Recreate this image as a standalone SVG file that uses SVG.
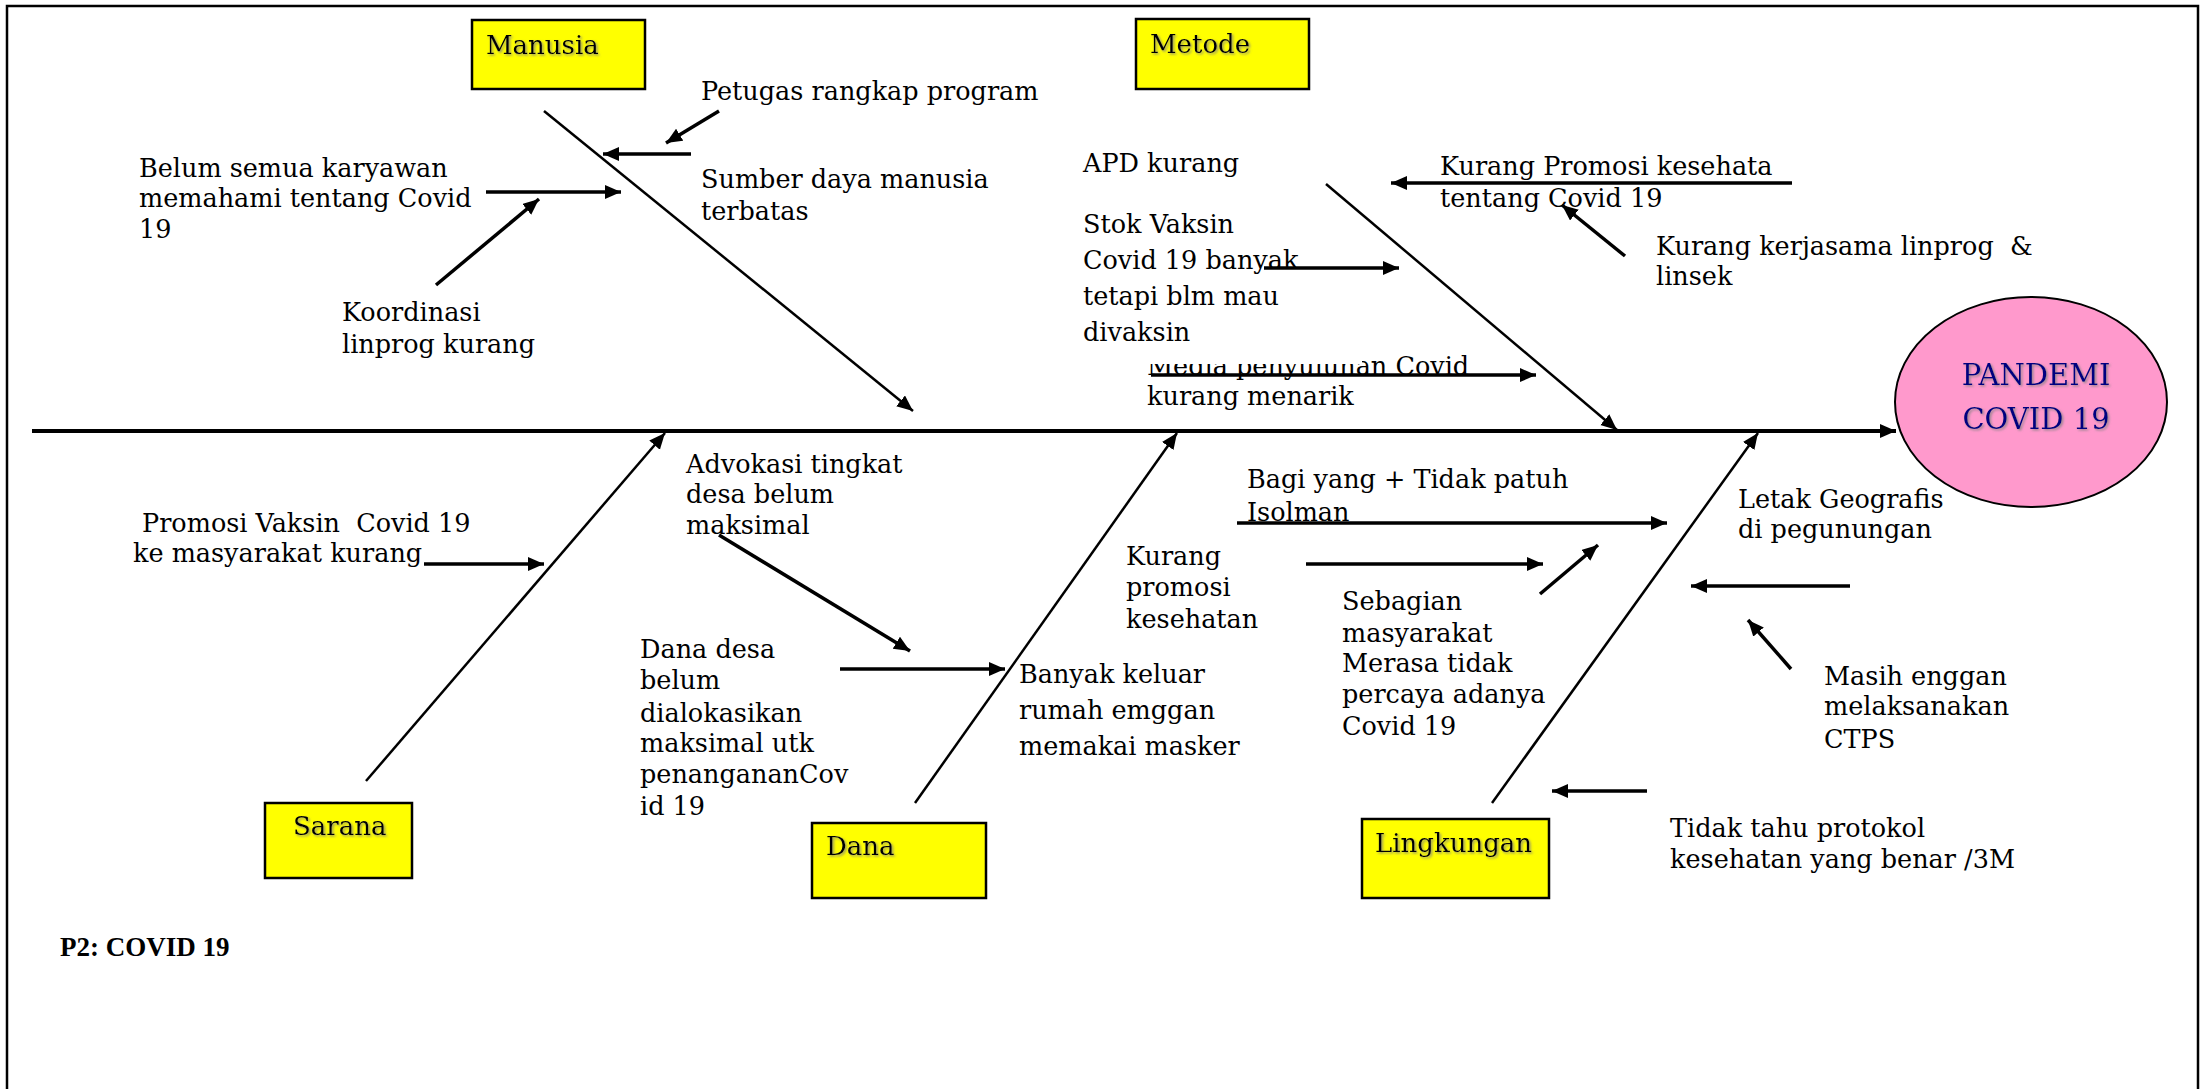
<svg xmlns="http://www.w3.org/2000/svg" width="2208" height="1089" viewBox="0 0 2208 1089">
<style>
.lbl{font-family:"DejaVu Serif","Liberation Serif",serif;font-size:25.5px;fill:#000;white-space:pre}
.cat{font-family:"DejaVu Serif","Liberation Serif",serif;font-size:26px;fill:#000;filter:url(#sh)}
.box{fill:#FFFF00;stroke:#000;stroke-width:2.5}
.bone{stroke:#000;stroke-width:2.5;fill:none;marker-end:url(#ah)}
.arr{stroke:#000;stroke-width:3.5;fill:none;marker-end:url(#ah)}
.spine{stroke:#000;stroke-width:4;fill:none;marker-end:url(#ah)}
.head{font-family:"DejaVu Serif","Liberation Serif",serif;font-size:29px;fill:#000080;text-anchor:middle;filter:url(#sh)}
</style>
<defs>
<marker id="ah" markerUnits="userSpaceOnUse" markerWidth="18" markerHeight="16" refX="16" refY="7" orient="auto">
<path d="M0,0 L16,7 L0,14 z" fill="#000"/>
</marker>
<filter id="sh" x="-10%" y="-20%" width="130%" height="150%">
<feDropShadow dx="1.5" dy="1.5" stdDeviation="1" flood-color="#808080" flood-opacity="0.8"/>
</filter>
<clipPath id="mediaclip"><rect x="1100" y="364" width="460" height="60"/><rect x="1362" y="330" width="200" height="90"/></clipPath>
</defs>
<rect x="0" y="0" width="2208" height="1089" fill="#fff"/>
<rect x="7" y="6" width="2191" height="1110" fill="none" stroke="#000" stroke-width="2.5"/>

<g id="connectors">
<line class="spine" x1="32" y1="431" x2="1896" y2="431"/>
<line class="bone" x1="544" y1="111" x2="913" y2="411"/>
<line class="bone" x1="1326" y1="184" x2="1617" y2="430"/>
<line class="bone" x1="366" y1="781" x2="665" y2="433"/>
<line class="bone" x1="915" y1="803" x2="1177" y2="433"/>
<line class="bone" x1="1492" y1="803" x2="1758" y2="433"/>
<line class="arr" x1="719" y1="111" x2="666" y2="143"/>
<line class="arr" x1="691" y1="154" x2="603" y2="154"/>
<line class="arr" x1="486" y1="192" x2="621" y2="192"/>
<line class="arr" x1="436" y1="285" x2="539" y2="199"/>
<line class="arr" x1="1792" y1="183" x2="1391" y2="183"/>
<line class="arr" x1="1625" y1="256" x2="1562" y2="205"/>
<line class="arr" x1="1264" y1="268" x2="1399" y2="268"/>
<line class="arr" x1="1151" y1="375" x2="1536" y2="375"/>
<line class="arr" x1="424" y1="564" x2="544" y2="564"/>
<line class="arr" x1="719" y1="535" x2="910" y2="651"/>
<line class="arr" x1="840" y1="669" x2="1005" y2="669"/>
<line class="arr" x1="1237" y1="523" x2="1667" y2="523"/>
<line class="arr" x1="1306" y1="564" x2="1543" y2="564"/>
<line class="arr" x1="1540" y1="594" x2="1598" y2="545"/>
<line class="arr" x1="1850" y1="586" x2="1691" y2="586"/>
<line class="arr" x1="1791" y1="669" x2="1748" y2="620"/>
<line class="arr" x1="1647" y1="791" x2="1552" y2="791"/>
</g>

<g id="node-manusia">
<rect class="box" x="472" y="20" width="173" height="69"/>
<text class="cat" x="486" y="54">Manusia</text>
</g>
<g id="node-metode">
<rect class="box" x="1136" y="19" width="173" height="70"/>
<text class="cat" x="1150" y="53">Metode</text>
</g>
<g id="node-sarana">
<rect class="box" x="265" y="803" width="147" height="75"/>
<text class="cat" x="293" y="835">Sarana</text>
</g>
<g id="node-dana">
<rect class="box" x="812" y="823" width="174" height="75"/>
<text class="cat" x="826" y="855">Dana</text>
</g>
<g id="node-lingkungan">
<rect class="box" x="1362" y="819" width="187" height="79"/>
<text class="cat" x="1375" y="852">Lingkungan</text>
</g>
<g id="node-pandemi">
<ellipse cx="2031" cy="402" rx="136" ry="105" fill="#FF99CC" stroke="#000" stroke-width="2"/>
<text class="head" x="2036" y="385">PANDEMI</text>
<text class="head" x="2036" y="429">COVID 19</text>
</g>

<g id="node-petugas"><text class="lbl" x="701" y="100">Petugas rangkap program</text></g>
<g id="node-sumber"><text class="lbl" x="701" y="188">Sumber daya manusia</text><text class="lbl" x="701" y="220">terbatas</text></g>
<g id="node-belum"><text class="lbl" x="139" y="177">Belum semua karyawan</text><text class="lbl" x="139" y="207">memahami tentang Covid</text><text class="lbl" x="139" y="238">19</text></g>
<g id="node-koordinasi"><text class="lbl" x="342" y="321">Koordinasi</text><text class="lbl" x="342" y="353">linprog kurang</text></g>
<g id="node-apd"><text class="lbl" x="1083" y="172">APD kurang</text></g>
<g id="node-kurangpromosi"><text class="lbl" x="1440" y="175">Kurang Promosi kesehata</text><text class="lbl" x="1440" y="207">tentang Covid 19</text></g>
<g id="node-kerjasama"><text class="lbl" x="1656" y="255">Kurang kerjasama linprog  &amp;</text><text class="lbl" x="1656" y="285">linsek</text></g>
<g id="node-media"><text class="lbl" x="1147" y="375" clip-path="url(#mediaclip)">Media penyuluhan Covid</text><text class="lbl" x="1147" y="405">kurang menarik</text></g>
<g id="node-stok"><text class="lbl" x="1083" y="233">Stok Vaksin</text><text class="lbl" x="1083" y="269">Covid 19 banyak</text><text class="lbl" x="1083" y="305">tetapi blm mau</text><text class="lbl" x="1083" y="341">divaksin</text></g>
<g id="node-promosivaksin"><text class="lbl" x="142" y="532">Promosi Vaksin  Covid 19</text><text class="lbl" x="133" y="562">ke masyarakat kurang</text></g>
<g id="node-advokasi"><text class="lbl" x="686" y="473">Advokasi tingkat</text><text class="lbl" x="686" y="503">desa belum</text><text class="lbl" x="686" y="534">maksimal</text></g>
<g id="node-danadesa"><text class="lbl" x="640" y="658">Dana desa</text><text class="lbl" x="640" y="689">belum</text><text class="lbl" x="640" y="722">dialokasikan</text><text class="lbl" x="640" y="752">maksimal utk</text><text class="lbl" x="640" y="783">penangananCov</text><text class="lbl" x="640" y="815">id 19</text></g>
<g id="node-banyak"><text class="lbl" x="1019" y="683">Banyak keluar</text><text class="lbl" x="1019" y="719">rumah emggan</text><text class="lbl" x="1019" y="755">memakai masker</text></g>
<g id="node-bagi"><text class="lbl" x="1247" y="488">Bagi yang + Tidak patuh</text><text class="lbl" x="1247" y="521">Isolman</text></g>
<g id="node-kurangpromosikes"><text class="lbl" x="1126" y="565">Kurang</text><text class="lbl" x="1126" y="596">promosi</text><text class="lbl" x="1126" y="628">kesehatan</text></g>
<g id="node-sebagian"><text class="lbl" x="1342" y="610">Sebagian</text><text class="lbl" x="1342" y="642">masyarakat</text><text class="lbl" x="1342" y="672">Merasa tidak</text><text class="lbl" x="1342" y="703">percaya adanya</text><text class="lbl" x="1342" y="735">Covid 19</text></g>
<g id="node-letak"><text class="lbl" x="1738" y="508">Letak Geografis</text><text class="lbl" x="1738" y="538">di pegunungan</text></g>
<g id="node-masih"><text class="lbl" x="1824" y="685">Masih enggan</text><text class="lbl" x="1824" y="715">melaksanakan</text><text class="lbl" x="1824" y="748">CTPS</text></g>
<g id="node-tidaktahu"><text class="lbl" x="1670" y="837">Tidak tahu protokol</text><text class="lbl" x="1670" y="868">kesehatan yang benar /3M</text></g>
<g id="node-p2"><text x="60" y="956" font-family="'Liberation Serif',serif" font-weight="bold" font-size="27">P2: COVID 19</text></g>
</svg>
